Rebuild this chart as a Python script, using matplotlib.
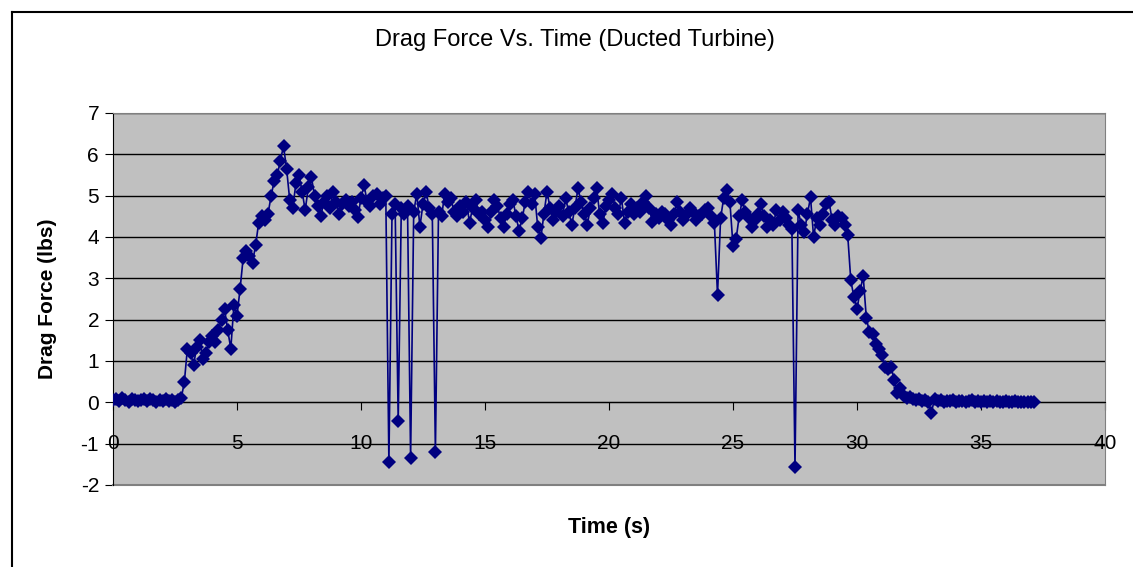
import numpy as np
import matplotlib.pyplot as plt
from matplotlib.lines import Line2D

# sampling step of the logged data (s)
dt = 0.125

# drag force readings (lbs), one per sample
force = [
    # 0 - 2.75 s : idle
    0.05, 0.07, 0.04, 0.10, 0.06, 0.02, 0.08, 0.05, 0.03, 0.06,
    0.09, 0.04, 0.07, 0.05, 0.02, 0.06, 0.04, 0.08, 0.03, 0.05,
    0.02, 0.06, 0.10,
    # 2.875 - 8 s : spin-up
    0.48, 1.30, 1.20, 0.90, 1.35, 1.50, 1.05, 1.20, 1.45, 1.60,
    1.45, 1.75, 2.00, 2.25, 1.75, 1.30, 2.35, 2.10, 2.75, 3.50,
    3.65, 3.55, 3.38, 3.80, 4.35, 4.50, 4.40, 4.55, 5.00, 5.35,
    5.50, 5.85, 6.20, 5.65, 4.90, 4.70, 5.30, 5.50, 5.10, 4.65,
    5.20, 5.45,
    # 8.125 - 13.5 s
    5.00, 4.75, 4.50, 4.85, 5.00, 4.70, 5.10, 4.85, 4.55, 4.80,
    4.90, 4.75, 4.85, 4.65, 4.48, 4.95, 5.25, 4.85, 4.75, 5.00,
    5.05, 4.80, 4.95, 5.00, -1.45, 4.55, 4.80, -0.45, 4.70, 4.55,
    4.75, -1.35, 4.60, 5.05, 4.25, 4.80, 5.10, 4.70, 4.55, -1.20,
    4.60, 4.50, 5.05, 4.85,
    # 13.625 - 20.375 s
    4.95, 4.60, 4.50, 4.75, 4.60, 4.85, 4.35, 4.70, 4.90, 4.55,
    4.60, 4.40, 4.25, 4.60, 4.90, 4.75, 4.45, 4.25, 4.55, 4.80,
    4.90, 4.50, 4.15, 4.45, 4.85, 5.10, 4.80, 5.05, 4.25, 3.97,
    4.55, 5.10, 4.70, 4.40, 4.60, 4.75, 4.50, 4.95, 4.60, 4.30,
    4.70, 5.18, 4.85, 4.55, 4.30, 4.70, 4.95, 5.18, 4.55, 4.33,
    4.75, 4.90, 5.05, 4.70, 4.55,
    # 20.5 - 27.5 s
    4.95, 4.35, 4.60, 4.80, 4.55, 4.70, 4.60, 4.85, 5.00, 4.70,
    4.36, 4.55, 4.45, 4.60, 4.55, 4.40, 4.29, 4.55, 4.85, 4.60,
    4.40, 4.55, 4.70, 4.60, 4.40, 4.50, 4.55, 4.65, 4.70, 4.50,
    4.33, 2.60, 4.45, 4.95, 5.13, 4.85, 3.78, 3.95, 4.50, 4.90,
    4.60, 4.45, 4.24, 4.40, 4.55, 4.80, 4.50, 4.25, 4.40, 4.30,
    4.65, 4.40, 4.60, 4.45, 4.30, 4.20, -1.57,
    # 27.625 - 33 s : spin-down
    4.65, 4.30, 4.12, 4.55, 4.96, 4.00, 4.45, 4.30, 4.55, 4.80,
    4.85, 4.40, 4.30, 4.50, 4.45, 4.30, 4.05, 2.95, 2.55, 2.25,
    2.70, 3.05, 2.05, 1.70, 1.65, 1.42, 1.30, 1.15, 0.85, 0.80,
    0.85, 0.55, 0.22, 0.35, 0.15, 0.10, 0.12, 0.07, 0.05, 0.08,
    0.04, 0.05, 0.02, -0.25,
    # 33.125 - 37.25 s : idle
    0.08, 0.03, 0.05, 0.02, 0.04, 0.03, 0.05, 0.02, 0.03, 0.04,
    0.02, 0.03, 0.05, 0.02, 0.03, 0.02, 0.04, 0.02, 0.03, 0.02,
    0.03, 0.02, 0.02, 0.03, 0.02, 0.02, 0.03, 0.02, 0.02, 0.02,
    0.02, 0.02, 0.02,
]
time = np.arange(len(force)) * dt

x_ticks = [0, 5, 10, 15, 20, 25, 30, 35, 40]
y_ticks = [-2, -1, 0, 1, 2, 3, 4, 5, 6, 7]

plt.rcParams['font.family'] = ['Liberation Sans', 'DejaVu Sans']
plt.rcParams['axes.unicode_minus'] = False

fig = plt.figure(figsize=(11.33, 5.67), dpi=100)
ax = fig.add_axes([113 / 1133, 1 - 485 / 567, 992 / 1133, 372 / 567])
ax.set_facecolor('#C0C0C0')

ax.plot(time, force, color='#000080', linewidth=1.2, marker='D',
        markersize=7.5, markeredgewidth=0, zorder=3)

ax.set_xlim(0, 40)
ax.set_ylim(-2, 7)
ax.set_xticks(x_ticks)
ax.set_yticks(y_ticks)
ax.grid(True, axis='y', color='black', linewidth=1)
ax.set_axisbelow(True)

# Excel style: category axis crosses at zero
for side in ['top', 'right']:
    ax.spines[side].set_color('#808080')
ax.spines['bottom'].set_position(('data', 0))
ax.spines['bottom'].set_color('black')
ax.spines['left'].set_color('black')
ax.plot([0, 40], [-2, -2], color='#808080', linewidth=1.5, clip_on=False, zorder=1)

ax.tick_params(axis='x', direction='out', length=6, pad=17, labelsize=15)
ax.tick_params(axis='y', direction='out', length=6, pad=4, labelsize=15)

ax.set_xlabel('Time (s)', fontsize=15.5, fontweight='bold')
ax.xaxis.set_label_coords(0.5, -0.085)
ax.set_ylabel('Drag Force (lbs)', fontsize=15, fontweight='bold')
ax.yaxis.set_label_coords(-0.056, 0.5)

fig.text(575 / 1133, 1 - 40 / 567, 'Drag Force Vs. Time (Ducted Turbine)',
         ha='center', va='center', fontsize=17)

# chart frame
fig.add_artist(Line2D([12 / 1133, 12 / 1133], [0, 1 - 12 / 567], color='black', linewidth=1.5))
fig.add_artist(Line2D([12 / 1133, 1], [1 - 12 / 567, 1 - 12 / 567], color='black', linewidth=1.5))

fig.savefig('out.png', dpi=100)
